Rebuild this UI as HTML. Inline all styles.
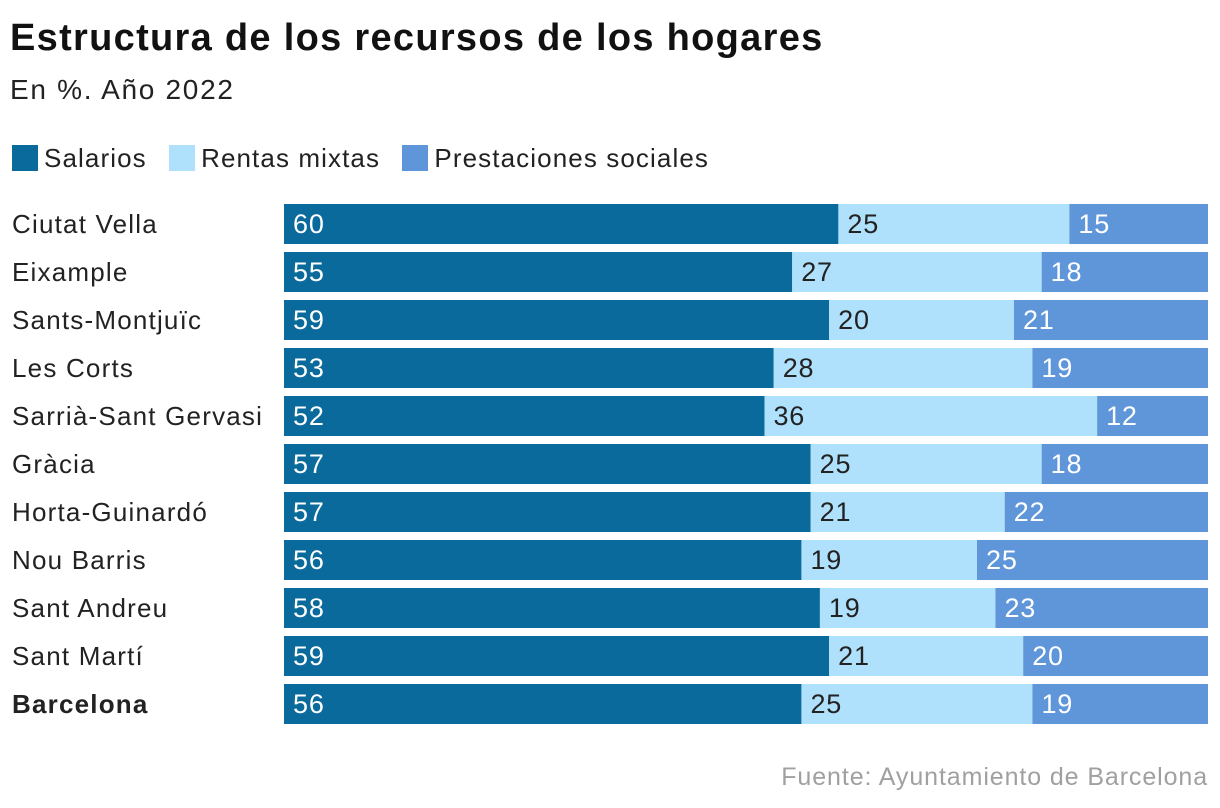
<!DOCTYPE html>
<html><head><meta charset="utf-8">
<style>
body{margin:0;background:#fff;font-family:"Liberation Sans",sans-serif;}
#wrap{position:relative;width:1220px;height:808px;overflow:hidden;}
.t{position:absolute;white-space:nowrap;}
</style></head>
<body>
<div id="wrap">
<div class="t" style="left:10px;top:17px;font-size:38px;font-weight:bold;color:#111;letter-spacing:1.3px">Estructura de los recursos de los hogares</div>
<div class="t" style="left:10px;top:74px;font-size:28px;color:#222;letter-spacing:1.7px">En %. Año 2022</div>
<div class="t" style="left:12px;top:143px;font-size:26px;color:#222;letter-spacing:1.1px">
<span><span style="display:inline-block;width:26px;height:26px;background:#0a6a9c;vertical-align:-4px;margin-right:6px"></span>Salarios</span>
<span style="margin-left:14px"><span style="display:inline-block;width:26px;height:26px;background:#b0e1fc;vertical-align:-4px;margin-right:6px"></span>Rentas mixtas</span>
<span style="margin-left:14px"><span style="display:inline-block;width:26px;height:26px;background:#5f96da;vertical-align:-4px;margin-right:6px"></span>Prestaciones sociales</span>
</div>
<svg id="svg" width="1220" height="808" style="position:absolute;left:0;top:0"></svg>
<div class="t" style="right:12px;top:763px;font-size:25px;color:#a0a0a0;letter-spacing:0.9px">Fuente: Ayuntamiento de Barcelona</div>
</div>
<script>
const categories=["Ciutat Vella","Eixample","Sants-Montjuïc","Les Corts","Sarrià-Sant Gervasi","Gràcia","Horta-Guinardó","Nou Barris","Sant Andreu","Sant Martí","Barcelona"];
const salarios=[60,55,59,53,52,57,57,56,58,59,56];
const rentas=[25,27,20,28,36,25,21,19,19,21,25];
const prestaciones=[15,18,21,19,12,18,22,25,23,20,19];
const NS="http://www.w3.org/2000/svg";
const svg=document.getElementById('svg');
const x0=284,x1=1208,top0=204,step=48,bh=40;
const xs=v=>x0+(x1-x0)*v/100;
const series=[[salarios,"#0a6a9c","#fff","salarios"],[rentas,"#b0e1fc","#222","rentas"],[prestaciones,"#5f96da","#fff","prestaciones"]];
categories.forEach((c,i)=>{
  const y=top0+i*step;
  const lab=document.createElementNS(NS,'text');
  
  
  lab.setAttribute('x',12);lab.setAttribute('y',y+bh/2+9);
  lab.setAttribute('font-size','26');lab.setAttribute('fill','#222');
  lab.setAttribute('letter-spacing','1.2');
  if(i===categories.length-1)lab.setAttribute('font-weight','bold');
  lab.textContent=c;svg.appendChild(lab);
  let cum=0;
  series.forEach(s=>{
    const v=s[0][i];
    const r=document.createElementNS(NS,'rect');
    
    
    const a=xs(cum),b=xs(Math.min(100,cum+v));
    r.setAttribute('x',a);r.setAttribute('y',y);r.setAttribute('width',b-a);r.setAttribute('height',bh);
    r.setAttribute('fill',s[1]);svg.appendChild(r);
    const t=document.createElementNS(NS,'text');
    
    
    t.setAttribute('x',a+9);t.setAttribute('y',y+bh/2+9);
    t.setAttribute('font-size','27');t.setAttribute('fill',s[2]);
    t.setAttribute('letter-spacing','0.8');
    t.textContent=v;svg.appendChild(t);
    cum+=v;
  });
});
</script>
</body></html>
